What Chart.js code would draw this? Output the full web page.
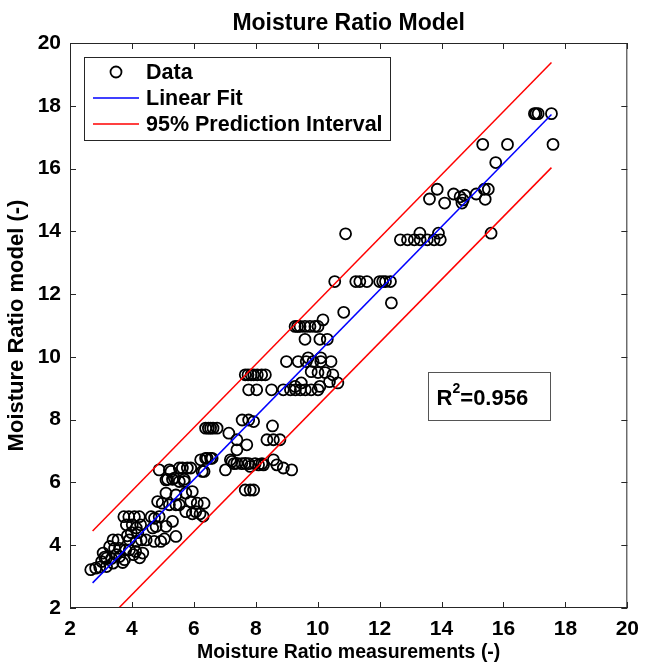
<!DOCTYPE html>
<html>
<head>
<meta charset="utf-8">
<script src="https://cdn.jsdelivr.net/npm/chart.js@4/dist/chart.umd.min.js"></script>
<style>
  html, body { margin: 0; padding: 0; background: #fff; }
  #wrap { width: 648px; height: 666px; }
</style>
</head>
<body>
<div id="wrap"><canvas id="c" width="648" height="666"></canvas></div>
<script>
// ─── Data ───────────────────────────────────────────────────────────────────

const dataX = [
  2.67, 2.83, 2.96, 3.02, 3.07, 3.12, 3.18, 3.18, 3.28, 3.34, 3.39, 3.39, 3.44, 3.50, 3.55, 3.60, 3.60, 3.70, 3.74, 3.76,
  3.80, 3.82, 3.85, 3.90, 3.92, 3.92, 3.98, 4.01, 4.05, 4.08, 4.12, 4.14, 4.14, 4.19, 4.24, 4.28, 4.30, 4.35, 4.25,
  4.46, 4.62, 4.67, 4.72, 4.73, 4.78, 4.83, 4.88, 4.88, 4.93, 4.98, 5.05, 5.10, 5.10, 5.10, 5.15, 5.21, 5.21, 5.26,
  5.31, 5.31, 5.37, 5.42, 5.42, 5.42, 5.53, 5.53, 5.53, 5.63, 5.69, 5.69, 5.74, 5.74, 5.79, 5.90, 5.90, 5.95, 5.95,
  6.06, 6.11, 6.20, 6.22, 6.27, 6.33, 6.30,
  6.33, 6.38, 6.43, 6.54, 6.59, 6.38, 6.47, 6.54, 6.62, 6.75, 7.02, 7.13, 7.18, 7.23, 7.30, 7.39, 7.39, 7.39, 7.55,
  7.56, 7.66, 7.66, 7.71, 7.77, 7.77, 7.82, 7.82, 7.93, 7.93, 7.98, 8.09, 8.20, 8.25, 8.36, 8.54, 8.57, 8.57, 8.68,
  8.78, 8.89, 9.16,
  7.66, 7.75, 7.85, 7.93, 8.05, 8.19, 8.31, 7.77, 8.03, 8.51, 8.89, 9.12, 9.28, 9.27, 9.44, 9.47, 9.60, 9.79, 9.79,
  10.01, 10.01, 10.07, 10.24, 10.38, 10.49, 10.65, 8.99, 9.37, 9.63, 9.85, 10.10, 10.43, 9.69, 10.10,
  9.27, 9.35, 9.43, 9.59, 9.75, 9.91, 10.01, 10.17, 9.59, 10.07, 10.31,
  10.84, 10.55, 11.23, 11.36, 11.59, 12.00, 12.10, 12.19, 12.35, 12.38, 10.90,
  12.67, 12.90, 13.12, 13.31, 13.54, 13.76, 13.96, 13.30, 13.90,
  13.61, 13.86, 14.10, 14.39, 14.60, 14.66, 14.70, 14.75, 15.12, 15.38, 15.51, 15.41, 15.60, 15.33, 16.13, 15.75,
  17.00, 17.05, 17.12, 17.55, 17.60
];
const dataY = [
  3.22, 3.27, 3.30, 3.48, 3.75, 3.62, 3.32, 3.59, 3.96, 3.58, 3.43, 4.17, 3.90, 3.70, 4.17, 3.64, 3.90, 3.45, 4.91, 3.54,
  3.85, 4.65, 4.30, 4.91, 3.85, 4.17, 4.40, 4.65, 3.70, 4.91, 3.80, 4.12, 4.55, 4.40, 4.91, 4.65, 4.17, 3.75, 3.60,
  4.17, 4.91, 4.55, 4.12, 4.86, 4.60, 5.39, 4.91, 6.40, 4.12, 5.34, 4.20, 4.60, 5.66, 6.08, 6.10, 5.29, 6.40, 6.35,
  4.76, 6.10, 6.14, 4.28, 5.29, 5.60, 5.29, 6.03, 6.46, 6.46, 6.03, 6.10, 5.07, 5.66, 6.46, 5.39, 6.46, 5.00, 5.71,
  5.07, 5.34, 5.00, 6.72, 6.35, 5.34, 4.92,
  6.35, 6.77, 6.77, 6.77, 6.77, 7.73, 7.73, 7.73, 7.73, 7.73, 6.40, 7.57, 6.72, 6.67, 6.60, 7.04, 7.36, 6.61, 6.60,
  7.99, 5.76, 6.61, 7.20, 7.99, 6.60, 5.76, 6.51, 5.76, 7.94, 6.60, 6.56, 6.60, 6.56, 7.36, 7.80, 6.72, 7.36, 6.56,
  7.36, 6.46, 6.40,
  9.43, 9.43, 9.43, 9.43, 9.43, 9.43, 9.43, 8.95, 8.95, 8.95, 8.95, 8.95, 8.95, 9.06, 8.95, 9.17, 8.95, 8.95, 9.53,
  8.95, 9.50, 9.06, 9.50, 9.21, 9.43, 9.17, 9.85, 9.85, 9.85, 9.85, 9.85, 9.85, 9.97, 9.97,
  10.97, 10.97, 10.97, 10.97, 10.97, 10.97, 10.97, 11.18, 10.56, 10.56, 10.56,
  11.42, 12.40, 12.40, 12.40, 12.40, 12.40, 12.40, 12.40, 12.40, 11.72, 13.92,
  13.73, 13.73, 13.73, 13.73, 13.73, 13.73, 13.73, 13.94, 13.94,
  15.03, 15.34, 14.90, 15.19, 15.10, 14.90, 15.00, 15.15, 15.19, 15.34, 15.34, 15.02, 13.94, 16.77, 16.77, 16.19,
  17.75, 17.75, 17.75, 17.75, 16.77
];

// fitted line and 95% prediction bounds (end points)
const fitX   = [2.73, 17.55];
const fitY   = [2.80, 17.72];
const upperX = [2.73, 17.55];
const upperY = [4.45, 19.38];
const lowerX = [2.73, 17.55];
const lowerY = [1.15, 16.03];

const xTicks = [2, 4, 6, 8, 10, 12, 14, 16, 18, 20];
const yTicks = [2, 4, 6, 8, 10, 12, 14, 16, 18, 20];

const seriesLabels = ['Data', 'Linear Fit', '95% Prediction Interval'];
const rSquared = '0.956';

// ─── Helpers ────────────────────────────────────────────────────────────────

const FONT = '"Liberation Sans", Arial, Helvetica, sans-serif';
const pts = (xs, ys) => xs.map((x, i) => ({ x, y: ys[i] }));

// MATLAB-like frame with inward ticks, title, legend box and R² box
const matlabDecor = {
  id: 'matlabDecor',
  afterDatasetsDraw(chart) {
    const { ctx, chartArea: a, scales } = chart;
    ctx.save();

    // frame
    ctx.strokeStyle = '#262626';
    ctx.lineWidth = 1;
    ctx.strokeRect(a.left + 0.5, a.top + 0.5, a.width - 1, a.height - 1);

    // inward ticks
    const tl = 6;
    ctx.beginPath();
    xTicks.forEach(v => {
      const px = Math.round(scales.x.getPixelForValue(v)) + 0.5;
      ctx.moveTo(px, a.bottom); ctx.lineTo(px, a.bottom - tl);
      ctx.moveTo(px, a.top);    ctx.lineTo(px, a.top + tl);
    });
    yTicks.forEach(v => {
      const py = Math.round(scales.y.getPixelForValue(v)) + 0.5;
      ctx.moveTo(a.left, py);  ctx.lineTo(a.left + tl, py);
      ctx.moveTo(a.right, py); ctx.lineTo(a.right - tl, py);
    });
    ctx.stroke();

    // legend box
    const ds = chart.data.datasets;
    const lx = a.left + 14, ly = a.top + 14, lw = 306, lh = 83;
    ctx.fillStyle = '#fff';
    ctx.fillRect(lx, ly, lw, lh);
    ctx.strokeStyle = '#262626';
    ctx.strokeRect(lx + 0.5, ly + 0.5, lw, lh);

    ctx.font = 'bold 21.5px ' + FONT;
    ctx.textBaseline = 'middle';
    ctx.textAlign = 'left';
    const rows = [ly + 15, ly + 41, ly + 67];
    const iconL = lx + 9, iconR = lx + 55, textX = lx + 62;

    // Data (circle marker)
    const sc = ds[3];
    ctx.beginPath();
    ctx.arc((iconL + iconR) / 2, rows[0], sc.pointRadius, 0, Math.PI * 2);
    ctx.lineWidth = sc.borderWidth;
    ctx.strokeStyle = sc.borderColor;
    ctx.stroke();
    ctx.fillStyle = '#000';
    ctx.fillText(seriesLabels[0], textX, rows[0] + 1);

    // lines
    [[ds[0], rows[1], seriesLabels[1]], [ds[1], rows[2], seriesLabels[2]]].forEach(([d, y, t]) => {
      ctx.beginPath();
      ctx.moveTo(iconL, y); ctx.lineTo(iconR, y);
      ctx.lineWidth = d.borderWidth;
      ctx.strokeStyle = d.borderColor;
      ctx.stroke();
      ctx.fillStyle = '#000';
      ctx.fillText(t, textX, y + 1);
    });

    // R² annotation box
    const bx = scales.x.getPixelForValue(13.55), by = scales.y.getPixelForValue(9.52);
    const bw = 122, bh = 48;
    ctx.lineWidth = 1;
    ctx.strokeStyle = '#555';
    ctx.strokeRect(Math.round(bx) + 0.5, Math.round(by) + 0.5, bw, bh);
    ctx.fillStyle = '#000';
    ctx.font = 'bold 22px ' + FONT;
    let tx = bx + 9;
    const ty = by + bh / 2 + 3;
    ctx.fillText('R', tx, ty);
    tx += ctx.measureText('R').width;
    ctx.font = 'bold 14px ' + FONT;
    ctx.fillText('2', tx, ty - 10);
    tx += ctx.measureText('2').width;
    ctx.font = 'bold 22px ' + FONT;
    ctx.fillText('=' + rSquared, tx, ty);

    // title
    ctx.font = 'bold 23px ' + FONT;
    ctx.textAlign = 'center';
    ctx.textBaseline = 'alphabetic';
    ctx.fillText('Moisture Ratio Model', (a.left + a.right) / 2, 30);

    ctx.restore();
  }
};

// ─── Chart ──────────────────────────────────────────────────────────────────

const ctx = document.getElementById('c').getContext('2d');
ctx.fillStyle = '#fff';
ctx.fillRect(0, 0, 648, 666);

new Chart(ctx, {
  type: 'scatter',
  data: {
    datasets: [
      {
        type: 'line',
        label: seriesLabels[1],
        data: pts(fitX, fitY),
        borderColor: '#0000ff',
        borderWidth: 1.5,
        pointRadius: 0,
        fill: false,
      },
      {
        type: 'line',
        label: seriesLabels[2],
        data: pts(upperX, upperY),
        borderColor: '#ff0000',
        borderWidth: 1.5,
        pointRadius: 0,
        fill: false,
      },
      {
        type: 'line',
        label: seriesLabels[2],
        data: pts(lowerX, lowerY),
        borderColor: '#ff0000',
        borderWidth: 1.5,
        pointRadius: 0,
        fill: false,
      },
      {
        label: seriesLabels[0],
        data: pts(dataX, dataY),
        pointStyle: 'circle',
        pointRadius: 5.5,
        pointHoverRadius: 5.5,
        backgroundColor: 'rgba(0,0,0,0)',
        borderColor: '#000',
        borderWidth: 1.8,
      },
    ],
  },
  options: {
    responsive: false,
    animation: false,
    layout: { padding: { top: 43, right: 16, left: 0, bottom: 0 } },
    plugins: {
      legend: { display: false },
      title: { display: false },
      tooltip: { enabled: false },
    },
    scales: {
      x: {
        type: 'linear',
        min: 2,
        max: 20,
        afterBuildTicks: s => { s.ticks = xTicks.map(v => ({ value: v })); },
        afterFit: s => { s.height = 58; },
        grid: { display: false, drawTicks: false },
        border: { display: false },
        ticks: { color: '#000', padding: 9, font: { family: FONT, size: 21, weight: 'bold' } },
        title: {
          display: true,
          text: 'Moisture Ratio measurements (-)',
          color: '#000',
          padding: { top: 0, bottom: 2 },
          font: { family: FONT, size: 19.5, weight: 'bold' },
        },
      },
      y: {
        type: 'linear',
        min: 2,
        max: 20,
        afterBuildTicks: s => { s.ticks = yTicks.map(v => ({ value: v })); },
        afterFit: s => { s.width = 70; },
        grid: { display: false, drawTicks: false },
        border: { display: false },
        ticks: { color: '#000', padding: 9, font: { family: FONT, size: 21, weight: 'bold' } },
        title: {
          display: true,
          text: 'Moisture Ratio model (-)',
          color: '#000',
          padding: { top: 4, bottom: 0 },
          font: { family: FONT, size: 22, weight: 'bold' },
        },
      },
    },
  },
  plugins: [matlabDecor],
});
</script>
</body>
</html>
